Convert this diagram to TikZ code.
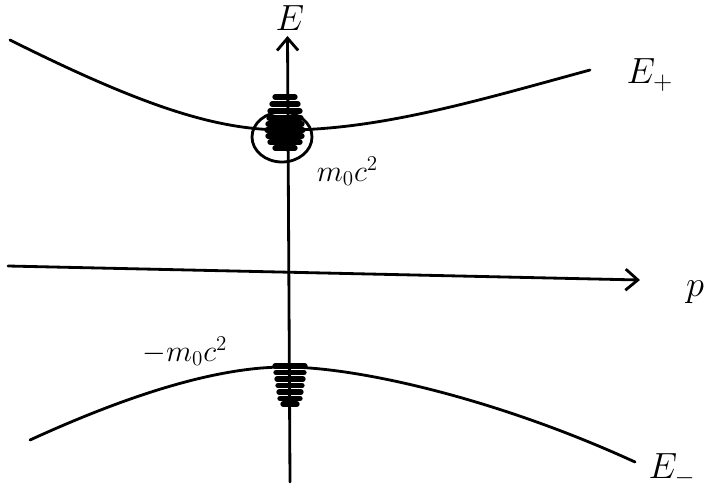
\documentclass[tikz,border=0pt]{standalone}
\usetikzlibrary{arrows.meta}

\begin{document}
\begin{tikzpicture}[line width=1.6pt, line cap=round,
  axis/.style={-{Straight Barb[length=7pt,width=12pt]}},
  band/.style={line width=3pt},
  lbl/.style={font=\huge},
  mlbl/.style={font=\LARGE}]
  \useasboundingbox (0,0) rectangle (14.24,9.92);
  \coordinate (Ebot) at (5.8,0.28);
  \coordinate (Etop) at (5.75,9.2);
  \coordinate (pl) at (0.16,4.6);
  \coordinate (pr) at (12.8,4.32);
  \coordinate (Up) at (5.7,7.32);
  \coordinate (Lo) at (5.7,2.58);
  % axes
  \draw[axis] (Ebot) -- (Etop);
  \draw[axis] (pl) -- (pr);
  % bands
  \draw (0.2,9.12) .. controls (3.0,7.72) and (4.4,7.32) .. (Up)
        .. controls (7.6,7.32) and (9.6,7.92) .. (11.8,8.52);
  \draw (0.6,1.12) .. controls (3.0,2.22) and (4.6,2.58) .. (Lo)
        .. controls (7.2,2.58) and (10.0,1.92) .. (12.7,0.68);
  % filled states
  \foreach \y/\w in {7.98/0.2,7.84/0.26,7.7/0.3,7.56/0.32,7.44/0.34,7.32/0.36,7.2/0.34,7.08/0.3,6.96/0.2}
    \draw[band] (5.7-\w,\y) -- (5.7+\w,\y);
  \foreach \y/\w in {2.6/0.3,2.47/0.28,2.34/0.26,2.21/0.24,2.08/0.22,1.95/0.2,1.84/0.14}
    \draw[band] (5.8-\w,\y) -- (5.8+\w,\y);
  \draw (5.64,7.18) ellipse (0.6 and 0.5);
  % labels
  \node[lbl] (E) at (5.8,9.56) {$E$};
  \node[lbl] (Eplus) at (13.0,8.42) {$E_+$};
  \node[lbl] (p) at (13.9,4.08) {$p$};
  \node[lbl] (Eminus) at (13.44,0.52) {$E_-$};
  \node[mlbl] (mc) at (6.95,6.5) {$m_0c^2$};
  \node[mlbl] (mmc) at (3.7,2.9) {$-m_0c^2$};
\end{tikzpicture}
\end{document}
